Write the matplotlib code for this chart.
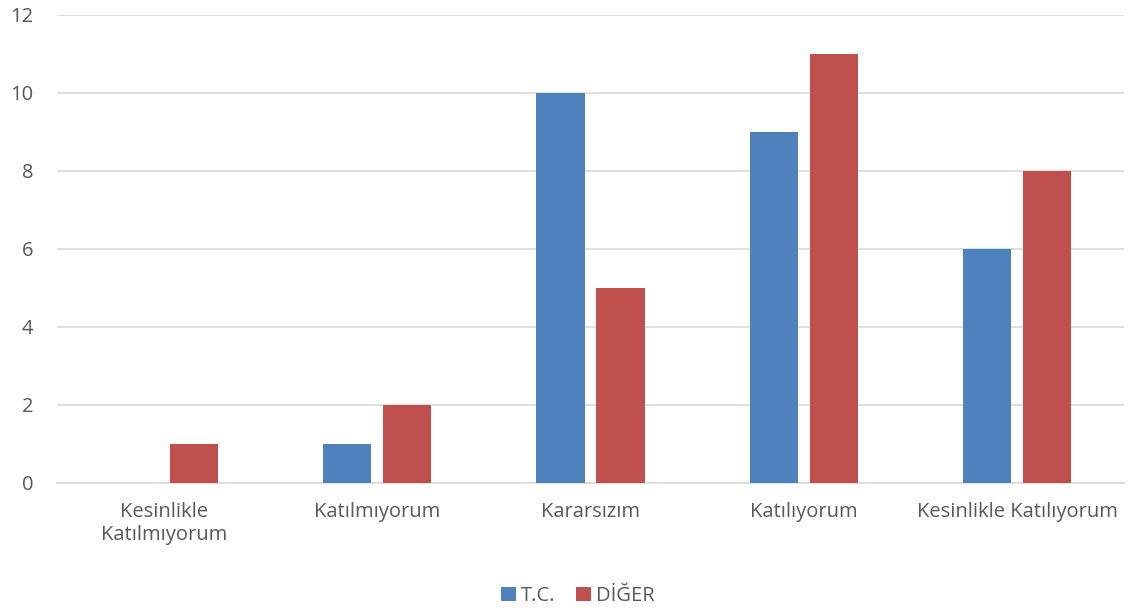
import matplotlib
matplotlib.use("Agg")
import matplotlib.pyplot as plt
import numpy as np

categories = ["Kesinlikle\nKatılmıyorum", "Katılmıyorum", "Kararsızım", "Katılıyorum", "Kesinlikle Katılıyorum"]
tc_values = [0, 1, 10, 9, 6]
diger_values = [1, 2, 5, 11, 8]
series_names = ["T.C.", "DİĞER"]
yticks = [0, 2, 4, 6, 8, 10, 12]

plt.rcParams['font.family'] = ['Open Sans', 'DejaVu Sans']
text_color = "#595959"

fig = plt.figure(figsize=(11.31, 6.12), dpi=100)
ax = fig.add_axes([57/1131, (612-483)/612, (1124-57)/1131, (483-15)/612])

x = np.arange(len(categories))
w = 0.225
off = 0.1406
ax.bar(x - off, tc_values, width=w, color="#4F81BD", label=series_names[0], zorder=3)
ax.bar(x + off, diger_values, width=w, color="#C0504D", label=series_names[1], zorder=3)

ax.set_xlim(-0.5, len(categories) - 0.5)
ax.set_ylim(0, 12)
ax.set_yticks(yticks)
ax.set_xticks(x)
ax.set_xticklabels(categories, fontsize=14.5, color=text_color, linespacing=1.15)
ax.tick_params(axis='y', labelsize=14.5, labelcolor=text_color, length=0, pad=17)
ax.tick_params(axis='x', length=0, pad=14)
ax.yaxis.grid(True, color="#D9D9D9", linewidth=1.2, zorder=0)
for s in ["top", "right", "left"]:
    ax.spines[s].set_visible(False)
ax.spines["bottom"].set_color("#D9D9D9")
ax.spines["bottom"].set_linewidth(1.2)

leg = fig.legend(loc="center", bbox_to_anchor=(578/1131, 1 - 596/612), ncol=2, frameon=False,
                 fontsize=14.5, handlelength=0.75, handleheight=0.75, handletextpad=0.25,
                 columnspacing=1.0)
for t in leg.get_texts():
    t.set_color(text_color)

fig.savefig("out.png", dpi=100)
